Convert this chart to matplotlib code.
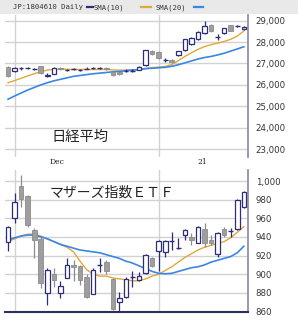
import matplotlib
matplotlib.use("Agg")
import matplotlib.pyplot as plt
from matplotlib.patches import Rectangle
from matplotlib.lines import Line2D
import matplotlib.transforms as mtrans

# ---------------- data ----------------
# Nikkei 225 (top panel), 37 daily candles (Nov 30 2020 .. Jan 22 2021)
nk_open  = [26850, 26660, 26820, 26780, 26760, 26870, 26430, 26530, 26790, 26690,
            26740, 26700, 26780, 26800, 26790, 26780, 26620, 26590, 26680, 26670,
            26700, 26930, 27600, 27550, 27170, 27150, 27390, 27650, 27910, 28130,
            28440, 28800, 28250, 28410, 28800, 28750, 28600]
nk_close = [26430, 26800, 26800, 26810, 26750, 26550, 26480, 26800, 26760, 26680,
            26730, 26690, 26760, 26810, 26800, 26720, 26450, 26510, 26670, 26660,
            26850, 27620, 27460, 27260, 27160, 27050, 27570, 28130, 28180, 28490,
            28750, 28530, 28240, 28640, 28530, 28760, 28690]
nk_high  = [26900, 26840, 26840, 26850, 26800, 26900, 26540, 26830, 26830, 26740,
            26800, 26740, 26820, 26850, 26840, 26850, 26640, 26620, 26720, 26720,
            26880, 27640, 27640, 27600, 27250, 27200, 27600, 28150, 28250, 28520,
            29000, 28850, 28400, 28680, 28820, 28800, 28730]
nk_low   = [26380, 26620, 26700, 26750, 26700, 26500, 26380, 26500, 26700, 26640,
            26690, 26650, 26720, 26760, 26750, 26680, 26420, 26480, 26620, 26620,
            26680, 26900, 27400, 27230, 27050, 27000, 27350, 27600, 27880, 28100,
            28400, 28480, 28100, 28380, 28500, 28700, 28580]
nk_sma10 = [26100, 26200, 26310, 26420, 26520, 26620, 26690, 26720, 26730, 26730,
            26720, 26720, 26720, 26720, 26720, 26720, 26700, 26690, 26690, 26700,
            26700, 26760, 26810, 26830, 26860, 26950, 27130, 27330, 27500, 27660,
            27790, 27880, 27950, 28030, 28130, 28280, 28520]
nk_sma20 = [25330, 25480, 25620, 25760, 25880, 26000, 26100, 26190, 26260, 26330,
            26400, 26440, 26480, 26520, 26550, 26580, 26610, 26630, 26660, 26690,
            26720, 26760, 26780, 26800, 26820, 26870, 26940, 27030, 27120, 27210,
            27280, 27330, 27400, 27480, 27580, 27680, 27780]

# Mothers index ETF (bottom panel)
mo_open  = [935, 960, 995, 984, 947, 938, 880, 900, 880, 896,
            910, 909, 897, 879, 910, 913, 895, 870, 876, 897,
            894, 901, 917, 925, 924, 936, 928, 942, 940, 934,
            949, 937, 922, 949, 945, 948, 972]
mo_close = [951, 977, 981, 953, 937, 891, 905, 894, 887, 910,
            908, 894, 876, 905, 910, 903, 863, 875, 895, 897,
            898, 921, 909, 936, 936, 936, 928, 947, 937, 951,
            934, 933, 944, 942, 946, 980, 988]
mo_high  = [952, 987, 1006, 985, 950, 940, 907, 907, 893, 917,
            915, 910, 900, 907, 917, 915, 896, 881, 897, 903,
            902, 922, 918, 937, 937, 945, 939, 948, 944, 952,
            955, 942, 945, 951, 950, 981, 989]
mo_low   = [925, 955, 972, 951, 917, 885, 867, 886, 874, 896,
            893, 888, 875, 879, 902, 900, 862, 861, 874, 886,
            893, 900, 908, 903, 918, 926, 927, 937, 931, 933,
            929, 931, 919, 940, 940, 947, 971]
mo_sma10 = [935, 938, 941, 943, 943, 941, 938, 935, 932, 929,
            924, 914, 905, 900, 898, 898, 896, 895, 894, 893,
            893, 895, 898, 900, 904, 908, 913, 918, 922, 926,
            929, 931, 933, 935, 939, 945, 951]
mo_sma20 = [937, 939, 941, 942, 942, 940, 938, 935, 932, 930,
            928, 926, 925, 924, 923, 921, 919, 917, 914, 912,
            909, 906, 903, 901, 900.5, 901, 903, 905, 907, 908,
            910, 913, 915, 917, 919, 923, 930]

nk_ticks = [23000, 24000, 25000, 26000, 27000, 28000, 29000]
mo_ticks = [860, 880, 900, 920, 940, 960, 980, 1000]
month_idx = [1, 23]          # first trading day of Dec and of Jan
month_labels = ["Dec", "21"]

# ---------------- styling ----------------
NAVY = "#2d2d78"
GRAY_F = "#9e9e9e"
GRAY_E = "#8c8c8c"
ORANGE = "#e0a83a"
BLUE = "#3a86e6"
GRID = "#d2d2d2"
TXT = "#333333"

W, H = 298, 322
fig = plt.figure(figsize=(W / 100, H / 100), dpi=100)
fig.patch.set_facecolor("white")


def fx(px):
    return px / W


def fy(py):
    return 1 - py / H


# header band
fig.patches.append(Rectangle((0, fy(14)), 1, 14 / H, transform=fig.transFigure,
                             facecolor="#e9e9e9", edgecolor="none", zorder=0))
HF = dict(fontsize=5.2, family="DejaVu Sans Mono", color=TXT, va="center", ha="left")
fig.text(fx(13), fy(7.5), "JP:1804610 Daily", **HF)
fig.lines.append(Line2D([fx(87), fx(93)], [fy(7), fy(7)], transform=fig.transFigure,
                        color=NAVY, lw=1.6))
fig.text(fx(94), fy(7.5), "SMA(10)", **HF)
fig.lines.append(Line2D([fx(141), fx(151)], [fy(7), fy(7)], transform=fig.transFigure,
                        color=ORANGE, lw=1.6))
fig.text(fx(156), fy(7.5), "SMA(20)", **HF)
fig.lines.append(Line2D([fx(194), fx(203)], [fy(7), fy(7)], transform=fig.transFigure,
                        color=BLUE, lw=1.6))

x0, x1 = 5, 248
ax1 = fig.add_axes([fx(x0), fy(157), (x1 - x0) / W, 142 / H])
ax2 = fig.add_axes([fx(x0), fy(312), (x1 - x0) / W, 142 / H])

n = len(nk_open)
xs = list(range(n))
XLIM = (-0.46, 36.64)
BW = 0.7


def candles(ax, o, h, l, c, doji_tol):
    for i in range(len(o)):
        up = c[i] >= o[i]
        if abs(c[i] - o[i]) <= doji_tol:
            ax.vlines(i, l[i], h[i], color=NAVY, lw=0.9, zorder=3)
            ax.hlines(c[i], i - BW / 2, i + BW / 2, color=NAVY, lw=1.0, zorder=3)
            continue
        lo, hi = min(o[i], c[i]), max(o[i], c[i])
        if up:
            ax.vlines(i, l[i], h[i], color=NAVY, lw=0.9, zorder=3)
            ax.add_patch(Rectangle((i - BW / 2, lo), BW, hi - lo, facecolor="white",
                                   edgecolor=NAVY, lw=0.9, zorder=4))
        else:
            ax.vlines(i, l[i], h[i], color=GRAY_E, lw=0.9, zorder=3)
            ax.add_patch(Rectangle((i - BW / 2, lo), BW, hi - lo, facecolor=GRAY_F,
                                   edgecolor=GRAY_E, lw=0.6, zorder=4))


def style(ax, ticks, fmt, ylim):
    ax.set_xlim(*XLIM)
    ax.set_ylim(*ylim)
    ax.set_yticks(ticks)
    ax.set_yticklabels([fmt(t) for t in ticks])
    ax.yaxis.tick_right()
    ax.tick_params(axis="y", length=0, pad=5.5, labelsize=6.2, labelcolor=TXT)
    ax.set_xticks(month_idx)
    ax.set_xticklabels([])
    ax.tick_params(axis="x", length=0)
    ax.grid(True, color=GRID, lw=1.0, zorder=0)
    ax.set_axisbelow(True)
    for s in ("top", "left", "bottom"):
        ax.spines[s].set_visible(False)
    ax.spines["right"].set_color("#9090a8")
    ax.spines["right"].set_linewidth(1.3)
    ax.set_facecolor("white")


style(ax1, nk_ticks, lambda t: f"{t:,}", (22631, 29266))
style(ax2, mo_ticks, lambda t: f"{t:,}", (859.5, 1011.8))
ax2.spines["bottom"].set_visible(True)
ax2.spines["bottom"].set_color("#2d2d60")
ax2.spines["bottom"].set_linewidth(1.5)

ax1.plot(xs, nk_sma10, color=ORANGE, lw=1.0, zorder=2)
ax1.plot(xs, nk_sma20, color=BLUE, lw=1.2, zorder=2)
candles(ax1, nk_open, nk_high, nk_low, nk_close, 25)

ax2.plot(xs, mo_sma10, color=ORANGE, lw=1.0, zorder=2)
ax2.plot(xs, mo_sma20, color=BLUE, lw=1.2, zorder=2)
candles(ax2, mo_open, mo_high, mo_low, mo_close, 1.5)

# month labels under top panel
tr = mtrans.blended_transform_factory(ax1.transData, fig.transFigure)
for pos, lab in zip([7.5, 29.6], month_labels):
    ax1.text(pos, fy(162), lab, transform=tr, fontsize=5.5, color="#222222",
             ha="center", va="center", family="DejaVu Serif")

fig.text(fx(80), fy(137), "日経平均", fontsize=10.3, color="#222222",
         family=["Noto Sans CJK JP", "DejaVu Sans"], ha="center", va="center")
fig.text(fx(50), fy(193), "マザーズ指数ＥＴＦ", fontsize=10.0, color="#222222",
         family=["Noto Sans CJK JP", "DejaVu Sans"], ha="left", va="center")

fig.savefig("out.png", dpi=100)
